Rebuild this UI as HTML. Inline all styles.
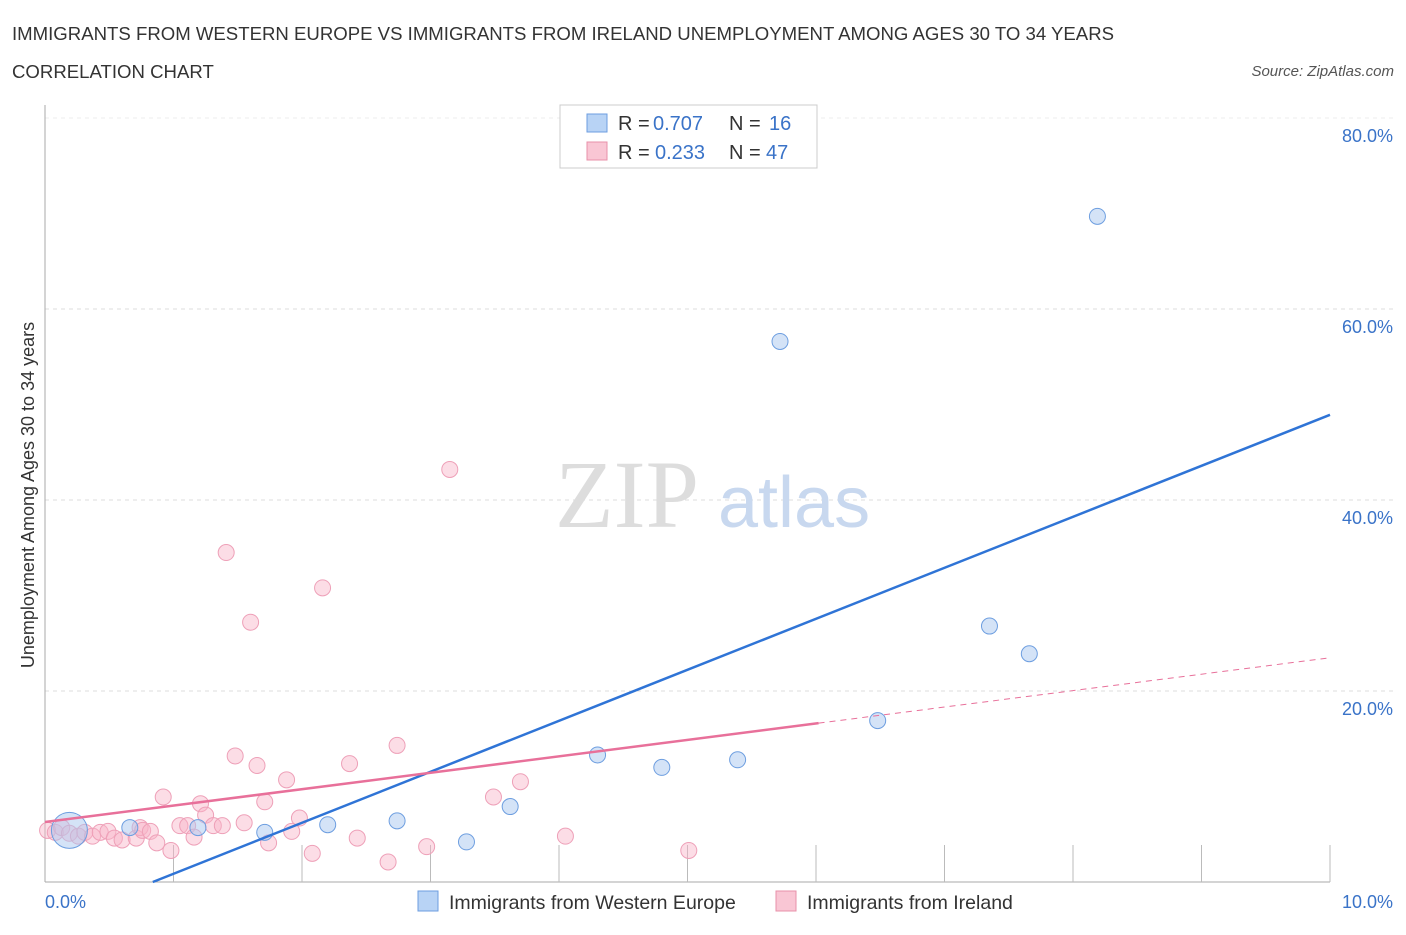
<!DOCTYPE html>
<html><head><meta charset="utf-8"><style>
body{margin:0;background:#fff;font-family:"Liberation Sans",sans-serif}
</style></head><body>
<svg width="1406" height="930" xmlns="http://www.w3.org/2000/svg" font-family="Liberation Sans, sans-serif">
<text x="12" y="40" font-size="18.6" fill="#333">IMMIGRANTS FROM WESTERN EUROPE VS IMMIGRANTS FROM IRELAND UNEMPLOYMENT AMONG AGES 30 TO 34 YEARS</text>
<text x="12" y="78" font-size="18.6" fill="#333">CORRELATION CHART</text>
<text x="1394" y="76" font-size="15" fill="#555" text-anchor="end" font-style="italic">Source: ZipAtlas.com</text>
<g id="grid"></g>
<text x="555" y="527" font-size="96" fill="#ddd" font-family="Liberation Serif, serif">ZIP</text>
<text x="718" y="527" font-size="72" fill="#c8d8ef">atlas</text>
<g id="marks"></g>
<text x="34" y="495" font-size="18" fill="#333" text-anchor="middle" transform="rotate(-90 34 495)">Unemployment Among Ages 30 to 34 years</text>
<text x="45" y="908" font-size="18" fill="#3a73c8">0.0%</text>
<text x="1393" y="908" font-size="18" fill="#3a73c8" text-anchor="end">10.0%</text>
<g font-size="20">
<rect x="560" y="105" width="257" height="63" fill="#fff" stroke="#ccc"/>
<rect x="587" y="114" width="20" height="18" fill="#b8d3f5" stroke="#6d9ee0"/>
<rect x="587" y="142" width="20" height="18" fill="#f9c6d4" stroke="#e890aa"/>
<text x="618" y="130" fill="#333">R =</text><text x="653" y="130" fill="#3a73c8">0.707</text>
<text x="729" y="130" fill="#333">N =</text><text x="769" y="130" fill="#3a73c8">16</text>
<text x="618" y="159" fill="#333">R =</text><text x="655" y="159" fill="#3a73c8">0.233</text>
<text x="729" y="159" fill="#333">N =</text><text x="766" y="159" fill="#3a73c8">47</text>
</g>
<g>
<rect x="418" y="891" width="20" height="20" fill="#b8d3f5" stroke="#6d9ee0"/>
<text x="449" y="909" font-size="19.5" fill="#333">Immigrants from Western Europe</text>
<rect x="776" y="891" width="20" height="20" fill="#f9c6d4" stroke="#e890aa"/>
<text x="807" y="909" font-size="19.5" fill="#333">Immigrants from Ireland</text>
</g>
</svg>
<script>
const blueX=[0.19,0.66,1.19,1.71,2.20,2.74,3.28,3.62,4.30,4.80,5.39,6.48,7.35,7.66,5.72,8.19];
const blueY=[5.4,5.7,5.7,5.2,6.0,6.4,4.2,7.9,13.3,12.0,12.8,16.9,26.8,23.9,56.6,69.7];
const pinkX=[0.02,0.08,0.13,0.19,0.26,0.31,0.37,0.43,0.49,0.54,0.60,0.71,0.74,0.76,0.82,0.87,0.92,0.98,1.05,1.11,1.16,1.21,1.25,1.31,1.38,1.41,1.48,1.55,1.60,1.65,1.71,1.74,1.88,1.92,1.98,2.08,2.16,2.37,2.43,2.67,2.74,2.97,3.15,3.49,3.70,4.05,5.01];
const pinkY=[5.4,5.2,5.7,5.1,4.8,5.2,4.8,5.2,5.3,4.6,4.4,4.6,5.7,5.4,5.3,4.1,8.9,3.3,5.9,5.9,4.7,8.2,7.0,5.9,5.9,34.5,13.2,6.2,27.2,12.2,8.4,4.1,10.7,5.3,6.7,3.0,30.8,12.4,4.6,2.1,14.3,3.7,43.2,8.9,10.5,4.8,3.3];
const yTicks=[20,40,60,80];
const yTickLabels=["20.0%","40.0%","60.0%","80.0%"];
const blueLine=[-4.48,5.34];
const pinkLine=[6.28,1.72];
const pinkSolidEnd=6.02;
const NS="http://www.w3.org/2000/svg";
const sx=v=>45+v*128.5, sy=v=>882-v*9.55;
function mk(t,a,p){const e=document.createElementNS(NS,t);for(const k in a)e.setAttribute(k,a[k]);p.appendChild(e);return e;}
const gridG=document.getElementById('grid'), marksG=document.getElementById('marks');
yTicks.forEach((t,i)=>{
 const l=mk('line',{x1:45,x2:1395,y1:sy(t),y2:sy(t),stroke:'#ddd','stroke-dasharray':'4,4'},gridG);
 
 
 const tx=mk('text',{x:1393,y:sy(t)+24,'font-size':18,fill:'#3a73c8','text-anchor':'end'},gridG);
 tx.textContent=yTickLabels[i];
 
 
});
const topLine=mk('line',{x1:45,x2:1395,y1:118,y2:118,stroke:'#eee','stroke-dasharray':'4,4'},gridG);


const yAxisLine=mk('line',{x1:45,x2:45,y1:105,y2:882,stroke:'#aaa'},gridG);


const xAxisLine=mk('line',{x1:45,x2:1330,y1:882,y2:882,stroke:'#aaa'},gridG);


for(let i=1;i<=10;i++){const t=mk('line',{x1:sx(i),x2:sx(i),y1:845,y2:882,stroke:'#bbb'},gridG);
 
 }
pinkX.forEach((x,i)=>{const c=mk('circle',{cx:sx(x),cy:sy(pinkY[i]),r:8,fill:'rgba(248,180,200,0.45)',stroke:'#eea0b8','stroke-width':1},marksG);
 
 });
blueX.forEach((x,i)=>{const c=mk('circle',{cx:sx(x),cy:sy(blueY[i]),r:i==0?18:8,fill:'rgba(170,200,240,0.5)',stroke:'#6d9ee0','stroke-width':1},marksG);
 
 });
const x0=-blueLine[0]/blueLine[1];
const bl=mk('line',{x1:sx(x0),y1:sy(0),x2:sx(10),y2:sy(blueLine[0]+blueLine[1]*10),stroke:'#2f74d6','stroke-width':2.5},marksG);


const pl=mk('line',{x1:sx(0),y1:sy(pinkLine[0]),x2:sx(pinkSolidEnd),y2:sy(pinkLine[0]+pinkLine[1]*pinkSolidEnd),stroke:'#e8709a','stroke-width':2.5},marksG);


const pd=mk('line',{x1:sx(pinkSolidEnd),y1:sy(pinkLine[0]+pinkLine[1]*pinkSolidEnd),x2:sx(10),y2:sy(pinkLine[0]+pinkLine[1]*10),stroke:'#e8709a','stroke-width':1,'stroke-dasharray':'6,5'},marksG);


</script>
</body></html>
